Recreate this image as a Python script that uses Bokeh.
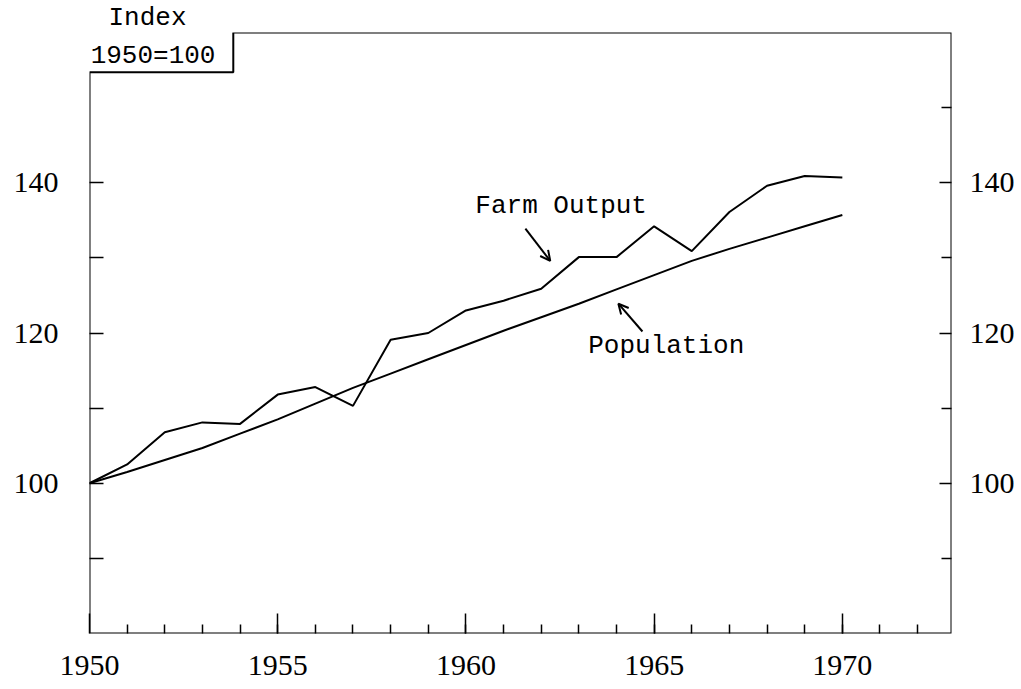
from bokeh.plotting import figure
from bokeh.models import (Range1d, LinearAxis, FixedTicker, PolyAnnotation,
                          Label, Arrow, OpenHead)
from bokeh.embed import file_html
from bokeh.resources import INLINE

# ---- data ----
years = list(range(1950, 1971))
farm_output = [100.0, 102.5, 106.8, 108.1, 107.9, 111.8, 112.8, 110.3, 119.1, 120.0,
               123.0, 124.3, 125.9, 130.1, 130.1, 134.2, 130.9, 136.1, 139.6, 140.9, 140.7]
population = [100.0, 101.5, 103.1, 104.7, 106.6, 108.5, 110.6, 112.7, 114.6, 116.5,
              118.4, 120.3, 122.1, 123.9, 125.8, 127.7, 129.6, 131.2, 132.7, 134.2, 135.7]
x_major_ticks = [1950, 1955, 1960, 1965, 1970]
x_minor_ticks = list(range(1951, 1973))
y_major_ticks = [100, 120, 140]
y_minor_left = [90, 110, 130]
y_minor_right = [90, 110, 130, 150]

X0, X1 = 1950, 1972.9
Y0, Y1 = 80, 160

TICK_FONT = "Liberation Serif"
MONO = "Liberation Mono"

p = figure(width=1020, height=688, output_backend="svg", toolbar_location=None,
           x_range=Range1d(X0, X1), y_range=Range1d(Y0, Y1),
           min_border_left=89, min_border_right=69, min_border_top=30,
           min_border_bottom=55, background_fill_color="white",
           border_fill_color="white", outline_line_color=None,
           title="Index")
p.xgrid.grid_line_color = None
p.ygrid.grid_line_color = None

# "Index" as the title, sitting above the notch
p.title.text_font = MONO
p.title.text_font_size = "26px"
p.title.text_font_style = "normal"
p.title.text_color = "black"
p.title.align = "left"
p.title.offset = 19
p.title.standoff = 0

def style_axis(ax):
    ax.axis_line_color = None
    ax.major_tick_out = 0
    ax.minor_tick_out = 0
    ax.major_tick_line_color = "black"
    ax.minor_tick_line_color = "black"
    ax.major_tick_line_width = 1.5
    ax.minor_tick_line_width = 1.5
    ax.major_label_text_font = TICK_FONT
    ax.major_label_text_font_size = "30px"
    ax.major_label_text_color = "black"

# bottom axis
xa = p.xaxis[0]
xa.ticker = FixedTicker(ticks=x_major_ticks, minor_ticks=x_minor_ticks)
style_axis(xa)
xa.major_tick_in = 20
xa.minor_tick_in = 9
xa.major_label_standoff = 22

# left axis
ya = p.yaxis[0]
ya.ticker = FixedTicker(ticks=y_major_ticks, minor_ticks=y_minor_left)
style_axis(ya)
ya.major_tick_in = 14
ya.minor_tick_in = 14
ya.major_label_standoff = 31
ya.major_label_orientation = "horizontal"

# right axis
yr = LinearAxis(ticker=FixedTicker(ticks=y_major_ticks, minor_ticks=y_minor_right))
style_axis(yr)
yr.major_tick_in = 12
yr.minor_tick_in = 10
yr.major_label_standoff = 18
yr.major_label_orientation = "horizontal"
p.add_layout(yr, "right")

# frame with the notch at top-left
notch_x = 1953.82
notch_y = 154.7
p.add_layout(PolyAnnotation(xs=[X0, X0, notch_x, notch_x, X1, X1],
                            ys=[Y0, notch_y, notch_y, Y1, Y1, Y0],
                            fill_alpha=0, line_color="black", line_alpha=1.0,
                            line_width=2))

# series
p.line(years, farm_output, line_color="black", line_width=2)
p.line(years, population, line_color="black", line_width=2)

# labels
def add_label(x, y, text):
    p.add_layout(Label(x=x, y=y, text=text, text_font=MONO,
                       text_font_size="26px", text_color="black",
                       text_baseline="alphabetic", text_align="left"))

add_label(1950.03, 156.9, "1950=100")
add_label(1960.25, 136.95, "Farm Output")
add_label(1963.25, 118.25, "Population")

# arrows
p.add_layout(Arrow(x_start=1961.58, y_start=133.9, x_end=1962.24, y_end=129.6,
                   line_width=2, line_color="black",
                   end=OpenHead(size=10, line_width=2, line_color="black")))
p.add_layout(Arrow(x_start=1964.69, y_start=120.2, x_end=1964.05, y_end=123.9,
                   line_width=2, line_color="black",
                   end=OpenHead(size=10, line_width=2, line_color="black")))

open("out.html", "w").write(file_html(p, INLINE))
